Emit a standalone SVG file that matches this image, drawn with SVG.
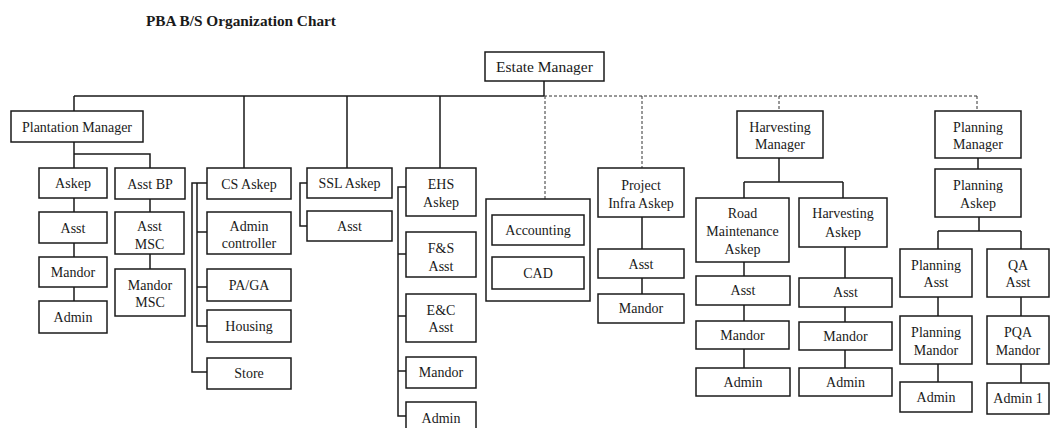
<svg xmlns="http://www.w3.org/2000/svg" width="1050" height="428" viewBox="0 0 1050 428">
<style>
rect{fill:#fff;stroke:#1a1a1a;stroke-width:1.5}
text{font-family:'Liberation Serif','Times New Roman',Times,'DejaVu Serif',serif;font-size:14px;fill:#1a1a1a;text-anchor:middle}
.title{font-weight:bold;text-anchor:start;font-size:15.3px}
.big{font-size:15.5px}
.c path{fill:none;stroke:#1a1a1a;stroke-width:1.5}
.c .d{stroke-width:1;stroke-dasharray:3,2;stroke:#333}
</style>
<rect x="0" y="0" width="1050" height="428" style="stroke:none;fill:#fff"/>
<text class="title" x="146" y="26" font-family="Liberation Serif, serif">PBA B/S Organization Chart</text>
<g class="c" id="connectors">
<path d="M544,81V96M74,96H544M74,96V111M244,96V168M347,96V168M440,96V168"/>
<path class="d" d="M544,96H977M545,96V199M642,96V168M779,96V111M977,96V111"/>
<path d="M74,142V154H150V168M74,154V168M74,198V212M74,243V257M74,287V301M150,199V212M150,254V269"/>
<path d="M207,183H192V372H207M197,183V326H207M197,232H207M197,287H207"/>
<path d="M307,183H300V226H307"/>
<path d="M406,187H398V416H406M398,254H406M398,316H406M398,371H406"/>
<path d="M642,217V249M642,278V294"/>
<path d="M779,158V182M744,182H843M744,182V198M843,182V198M744,262V276M744,305V321M744,349V368M845,247V278M845,307V322M845,350V368"/>
<path d="M978,158V169M979,217V231M938,231H1021M938,231V249M1021,231V249M938,297V316M938,364V382M1021,297V316M1021,364V383"/>
</g>
<g id="estate-manager"><rect x="485" y="52" width="119" height="29"/><text class="big" x="544.5" y="72">Estate Manager</text></g>
<g id="plantation-manager"><rect x="11" y="111" width="132" height="31"/><text x="77" y="131.5">Plantation Manager</text></g>
<g id="pm-askep"><rect x="39" y="168" width="68" height="30"/><text x="73" y="188">Askep</text></g>
<g id="pm-asst"><rect x="39" y="212" width="68" height="31"/><text x="73" y="232.5">Asst</text></g>
<g id="pm-mandor"><rect x="39" y="257" width="68" height="30"/><text x="73" y="277">Mandor</text></g>
<g id="pm-admin"><rect x="39" y="301" width="68" height="32"/><text x="73" y="322">Admin</text></g>
<g id="asst-bp"><rect x="115" y="168" width="70" height="31"/><text x="150" y="188.5">Asst BP</text></g>
<g id="asst-msc"><rect x="115" y="212" width="69" height="42"/><text x="149.5" y="231">Asst</text><text x="149.5" y="249">MSC</text></g>
<g id="mandor-msc"><rect x="115" y="269" width="70" height="47"/><text x="150" y="290">Mandor</text><text x="150" y="307">MSC</text></g>
<g id="cs-askep"><rect x="207" y="168" width="84" height="31"/><text x="249" y="188.5">CS Askep</text></g>
<g id="admin-controller"><rect x="207" y="212" width="84" height="42"/><text x="249" y="231">Admin</text><text x="249" y="248">controller</text></g>
<g id="pa-ga"><rect x="207" y="269" width="84" height="32"/><text x="249" y="290">PA/GA</text></g>
<g id="housing"><rect x="207" y="310" width="84" height="32"/><text x="249" y="331">Housing</text></g>
<g id="store"><rect x="207" y="358" width="84" height="31"/><text x="249" y="378">Store</text></g>
<g id="ssl-askep"><rect x="307" y="168" width="85" height="30"/><text x="349.5" y="188">SSL Askep</text></g>
<g id="ssl-asst"><rect x="307" y="211" width="85" height="30"/><text x="349.5" y="231">Asst</text></g>
<g id="ehs-askep"><rect x="406" y="168" width="70" height="48"/><text x="441" y="189">EHS</text><text x="441" y="207">Askep</text></g>
<g id="fs-asst"><rect x="406" y="232" width="70" height="45"/><text x="441" y="253">F&amp;S</text><text x="441" y="271">Asst</text></g>
<g id="ec-asst"><rect x="406" y="294" width="70" height="48"/><text x="441" y="315">E&amp;C</text><text x="441" y="332">Asst</text></g>
<g id="ehs-mandor"><rect x="406" y="357" width="70" height="31"/><text x="441" y="377">Mandor</text></g>
<g id="ehs-admin"><rect x="406" y="402" width="70" height="40"/><text x="441" y="423">Admin</text></g>
<g id="finance-group"><rect x="486" y="199" width="104" height="102"/>
<g id="accounting"><rect x="492" y="215" width="92" height="30"/><text x="538" y="235">Accounting</text></g>
<g id="cad"><rect x="492" y="257" width="92" height="32"/><text x="538" y="278">CAD</text></g></g>
<g id="project-infra-askep"><rect x="598" y="168" width="86" height="49"/><text x="641" y="190">Project</text><text x="641" y="208">Infra Askep</text></g>
<g id="pi-asst"><rect x="598" y="249" width="86" height="29"/><text x="641" y="268.5">Asst</text></g>
<g id="pi-mandor"><rect x="598" y="294" width="86" height="29"/><text x="641" y="313">Mandor</text></g>
<g id="harvesting-manager"><rect x="737" y="111" width="86" height="47"/><text x="780" y="132">Harvesting</text><text x="780" y="149">Manager</text></g>
<g id="planning-manager"><rect x="935" y="111" width="86" height="47"/><text x="978" y="132">Planning</text><text x="978" y="149">Manager</text></g>
<g id="road-maintenance-askep"><rect x="696" y="198" width="93" height="64"/><text x="742.5" y="218">Road</text><text x="742.5" y="236">Maintenance</text><text x="742.5" y="254">Askep</text></g>
<g id="harvesting-askep"><rect x="799" y="198" width="88" height="49"/><text x="843" y="218">Harvesting</text><text x="843" y="237">Askep</text></g>
<g id="rm-asst"><rect x="696" y="276" width="94" height="29"/><text x="743" y="295">Asst</text></g>
<g id="rm-mandor"><rect x="696" y="321" width="93" height="28"/><text x="742.5" y="340">Mandor</text></g>
<g id="rm-admin"><rect x="696" y="368" width="94" height="28"/><text x="743" y="387">Admin</text></g>
<g id="ha-asst"><rect x="799" y="278" width="93" height="29"/><text x="845.5" y="297">Asst</text></g>
<g id="ha-mandor"><rect x="799" y="322" width="93" height="28"/><text x="845.5" y="341">Mandor</text></g>
<g id="ha-admin"><rect x="799" y="368" width="93" height="28"/><text x="845.5" y="387">Admin</text></g>
<g id="planning-askep"><rect x="935" y="169" width="86" height="48"/><text x="978" y="190">Planning</text><text x="978" y="208">Askep</text></g>
<g id="planning-asst"><rect x="900" y="249" width="72" height="48"/><text x="936" y="270">Planning</text><text x="936" y="287">Asst</text></g>
<g id="qa-asst"><rect x="987" y="249" width="62" height="48"/><text x="1018" y="270">QA</text><text x="1018" y="287">Asst</text></g>
<g id="planning-mandor"><rect x="900" y="316" width="72" height="48"/><text x="936" y="337">Planning</text><text x="936" y="355">Mandor</text></g>
<g id="pqa-mandor"><rect x="987" y="316" width="62" height="48"/><text x="1018" y="337">PQA</text><text x="1018" y="355">Mandor</text></g>
<g id="planning-admin"><rect x="900" y="382" width="72" height="30"/><text x="936" y="402">Admin</text></g>
<g id="admin-1"><rect x="987" y="383" width="62" height="31"/><text x="1018" y="403">Admin 1</text></g>
</svg>
